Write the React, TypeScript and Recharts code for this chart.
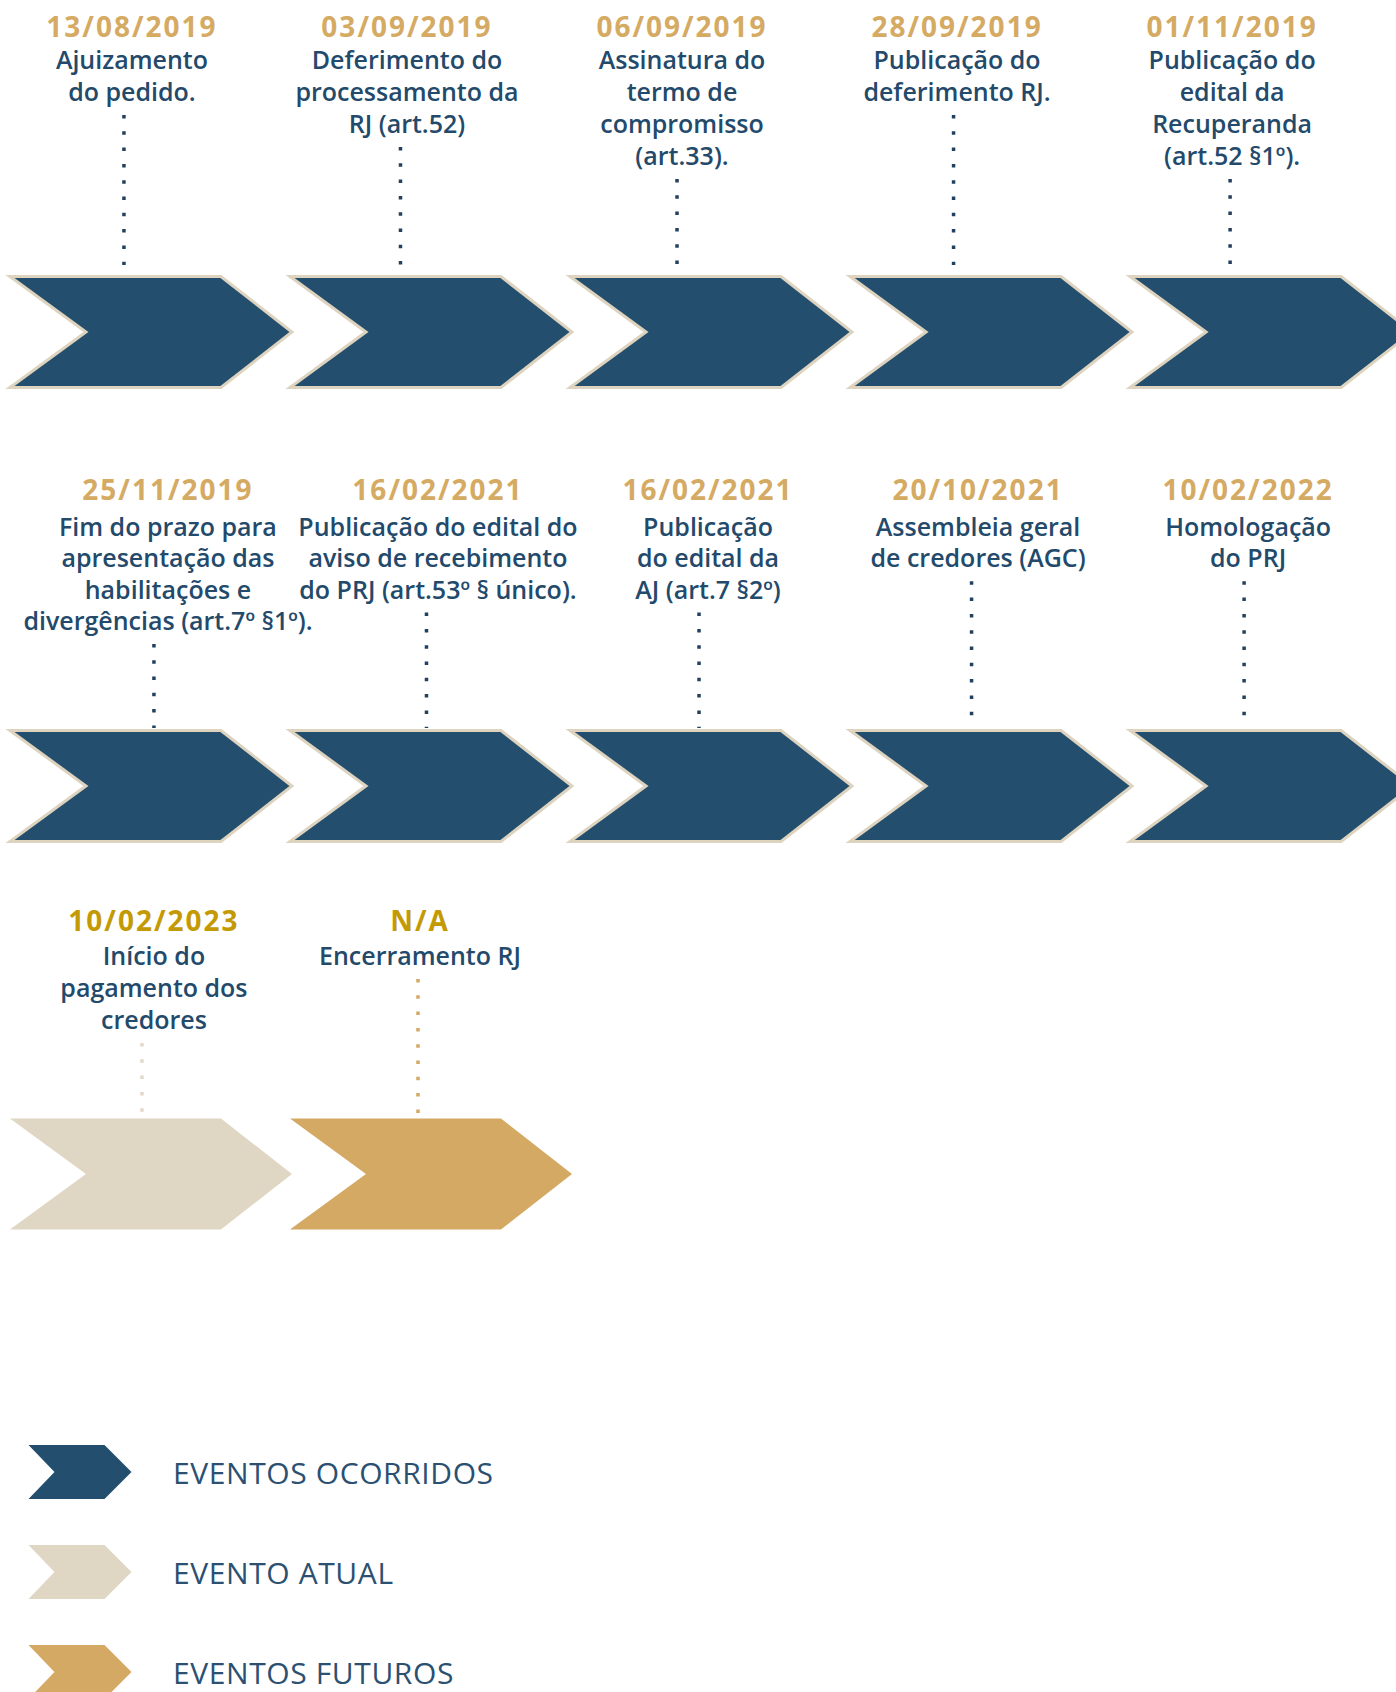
import React from "react";
import { ScatterChart, Scatter, XAxis, YAxis } from "recharts";

// timeline events, in reading order
const DATES = [
  "13/08/2019", "03/09/2019", "06/09/2019", "28/09/2019", "01/11/2019",
  "25/11/2019", "16/02/2021", "16/02/2021", "20/10/2021", "10/02/2022",
  "10/02/2023", "N/A",
];
const DESCRIPTIONS = [
  ["Ajuizamento", "do pedido."],
  ["Deferimento do", "processamento da", "RJ (art.52)"],
  ["Assinatura do", "termo de", "compromisso", "(art.33)."],
  ["Publicação do", "deferimento RJ."],
  ["Publicação do", "edital da", "Recuperanda", "(art.52 §1º)."],
  ["Fim do prazo para", "apresentação das", "habilitações e", "divergências (art.7º §1º)."],
  ["Publicação do edital do", "aviso de recebimento", "do PRJ (art.53º § único)."],
  ["Publicação", "do edital da", "AJ (art.7 §2º)"],
  ["Assembleia geral", "de credores (AGC)"],
  ["Homologação", "do PRJ"],
  ["Início do", "pagamento dos", "credores"],
  ["Encerramento RJ"],
];
const STATUS = [
  "ocorrido", "ocorrido", "ocorrido", "ocorrido", "ocorrido",
  "ocorrido", "ocorrido", "ocorrido", "ocorrido", "ocorrido",
  "atual", "futuro",
];
const ROWS = [1, 1, 1, 1, 1, 2, 2, 2, 2, 2, 3, 3];
const COLUMNS = [0, 1, 2, 3, 4, 0, 1, 2, 3, 4, 0, 1];

const LEGEND_LABELS = ["EVENTOS OCORRIDOS", "EVENTO ATUAL", "EVENTOS FUTUROS"];
const LEGEND_STATUS = ["ocorrido", "atual", "futuro"];

const FILL: Record<string, string> = { ocorrido: "#234E6E", atual: "#E0D6C4", futuro: "#D4A964" };
const DOT: Record<string, string> = { ocorrido: "#22405F", atual: "#E2D9C8", futuro: "#D4A964" };
const DATE_COLOR: Record<string, string> = { ocorrido: "#D5AA63", atual: "#C49A04", futuro: "#C49A04" };
const TEXT_BLUE = "#234A6B";
const BORDER = "#DDD3BF";
const FONT = "'Open Sans', 'Noto Sans', sans-serif";

const events = DATES.map((date, i) => ({
  date,
  lines: DESCRIPTIONS[i],
  status: STATUS[i],
  row: ROWS[i],
  col: COLUMNS[i],
}));

const legendItems = LEGEND_LABELS.map((label, i) => ({ label, status: LEGEND_STATUS[i], column: 0 }));

// where each row sits on the page; offsets are relative to the chevron centre.
// labels drift a little left of the chevrons as the row goes on (textStep / dotStep per column)
const ROW_LAYOUT: Record<number, any> = {
  1: { top: 0, height: 420, center: 332, date: -295, firstLine: -263, lineGap: 32, textDx: -19, textStep: -5, dotDx: -27, dotStep: -3.5, dotEnd: -67 },
  2: { top: 430, height: 430, center: 786, date: -286, firstLine: -250, lineGap: 31.3, textDx: 17, textStep: -10, dotDx: 3, dotStep: -7.5, dotEnd: -58 },
  3: { top: 870, height: 380, center: 1174, date: -243, firstLine: -209, lineGap: 32, textDx: 3, textStep: -14, dotDx: -9, dotStep: -4, dotEnd: -60 },
};

function chevron(cx: number, cy: number, w: number, h: number, tip: number, notch: number) {
  const l = cx - w / 2;
  const r = cx + w / 2;
  const t = cy - h / 2;
  const b = cy + h / 2;
  return `M${l},${t}L${r - tip},${t}L${r},${cy}L${r - tip},${b}L${l},${b}L${l + notch},${cy}Z`;
}

function EventMark(props: any) {
  const { cx, cy, payload } = props;
  if (cx == null || cy == null) return null;
  const L = ROW_LAYOUT[payload.row];
  const s = payload.status;
  const tx = cx + L.textDx + L.textStep * payload.col;
  const lastBase = cy + L.firstLine + (payload.lines.length - 1) * L.lineGap;
  const dotX = cx + L.dotDx + L.dotStep * payload.col;
  return (
    <g>
      <path
        d={chevron(cx, cy, 282, 111, 71, 76)}
        fill={FILL[s]}
        stroke={s === "ocorrido" ? BORDER : "none"}
        strokeWidth={3}
      />
      <text
        x={tx}
        y={cy + L.date}
        textAnchor="middle"
        fontFamily={FONT}
        fontWeight={700}
        fontSize={28}
        letterSpacing={2}
        fill={DATE_COLOR[s]}
      >
        {payload.date}
      </text>
      <text textAnchor="middle" fontFamily={FONT} fontWeight={600} fontSize={25} fill={TEXT_BLUE}>
        {payload.lines.map((ln: string, k: number) => (
          <tspan key={k} x={tx} y={cy + L.firstLine + k * L.lineGap}>
            {ln}
          </tspan>
        ))}
      </text>
      <line
        x1={dotX}
        y1={lastBase + 14}
        x2={dotX}
        y2={cy + L.dotEnd}
        stroke={DOT[s]}
        strokeWidth={3.5}
        strokeDasharray="3.5 12.8"
      />
    </g>
  );
}

function LegendMark(props: any) {
  const { cx, cy, payload } = props;
  if (cx == null || cy == null) return null;
  return (
    <g>
      <path d={chevron(cx, cy, 103, 54, 27, 26)} fill={FILL[payload.status]} />
      <text x={cx + 93} y={cy + 12} fontFamily={FONT} fontSize={30} letterSpacing={0.6} fill="#2B5071">
        {payload.label}
      </text>
    </g>
  );
}

function TimelineRow({ row }: { row: number }) {
  const L = ROW_LAYOUT[row];
  const data = events.filter((e) => e.row === row);
  return (
    <div style={{ position: "absolute", left: 0, top: L.top }}>
      <ScatterChart
        width={1396}
        height={L.height}
        margin={{ top: L.center - L.top, right: 0, bottom: 0, left: 0 }}
      >
        <XAxis type="number" dataKey="col" domain={[-0.539, 4.446]} hide />
        <YAxis type="number" dataKey="row" domain={[row - 1, row]} hide />
        <Scatter data={data} shape={EventMark} isAnimationActive={false} />
      </ScatterChart>
    </div>
  );
}

export default function App() {
  return (
    <div
      style={{
        position: "absolute",
        left: 0,
        top: 0,
        width: 1396,
        height: 1692,
        overflow: "hidden",
        background: "#ffffff",
      }}
    >
      <TimelineRow row={1} />
      <TimelineRow row={2} />
      <TimelineRow row={3} />
      <div style={{ position: "absolute", left: 0, top: 1400 }}>
        <ScatterChart width={700} height={322} margin={{ top: 22, right: 0, bottom: 0, left: 80 }}>
          <XAxis type="number" dataKey="column" domain={[0, 1]} hide />
          <YAxis type="category" dataKey="label" reversed hide />
          <Scatter data={legendItems} shape={LegendMark} isAnimationActive={false} />
        </ScatterChart>
      </div>
    </div>
  );
}
